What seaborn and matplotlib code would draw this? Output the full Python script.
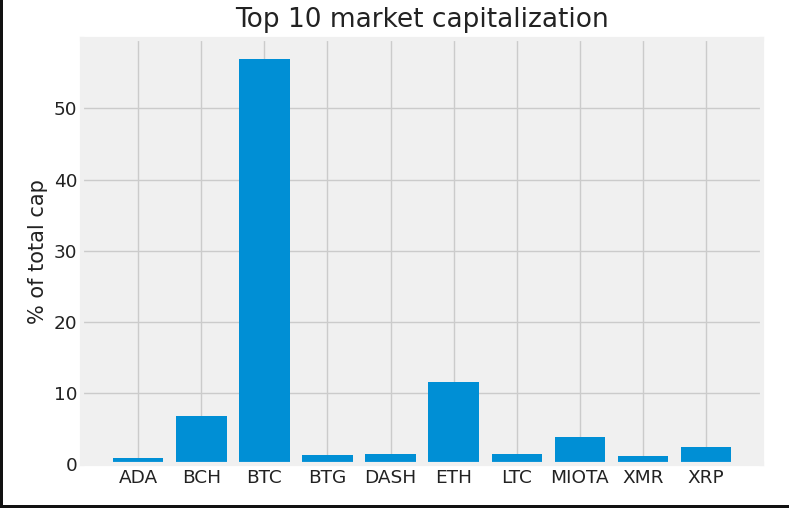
import matplotlib
matplotlib.use('Agg')
import matplotlib.pyplot as plt
import seaborn as sns
import pandas as pd
from matplotlib.patches import Rectangle

# Top 10 coins, share of total market cap (%)
coins = ['ADA', 'BCH', 'BTC', 'BTG', 'DASH', 'ETH', 'LTC', 'MIOTA', 'XMR', 'XRP']
cap_pct = [0.85, 6.8, 56.9, 1.3, 1.5, 11.6, 1.5, 3.9, 1.1, 2.5]

df = pd.DataFrame({'coin': coins, 'cap_pct': cap_pct})

plt.style.use('fivethirtyeight')
plt.rcParams['font.family'] = ['DejaVu Sans']

fig = plt.figure(figsize=(7.89, 5.08), dpi=100, facecolor='white')
ax = fig.add_axes([0.104, 0.086, 0.862, 0.838])

sns.barplot(data=df, x='coin', y='cap_pct', color='#008fd5',
            saturation=1, width=0.8, ax=ax)

ax.set_xlim(-0.89, 9.89)
ax.set_ylim(0, 59.8)
ax.set_yticks([0, 10, 20, 30, 40, 50])
ax.set_xlabel('')
ax.set_ylabel('% of total cap', fontsize=15, color='#222222')
ax.set_title('Top 10 market capitalization', fontsize=19, pad=8, color='#222222')
ax.tick_params(axis='both', labelsize=13.3, labelcolor='#222222')
ax.grid(True, axis='both')

# screenshot border on left and bottom
fig.add_artist(Rectangle((0, 0), 3 / 789, 1, transform=fig.transFigure,
                         color='#111111', lw=0))
fig.add_artist(Rectangle((0, 0), 1, 3 / 508, transform=fig.transFigure,
                         color='#111111', lw=0))

fig.savefig('out.png', dpi=100, facecolor='white')
